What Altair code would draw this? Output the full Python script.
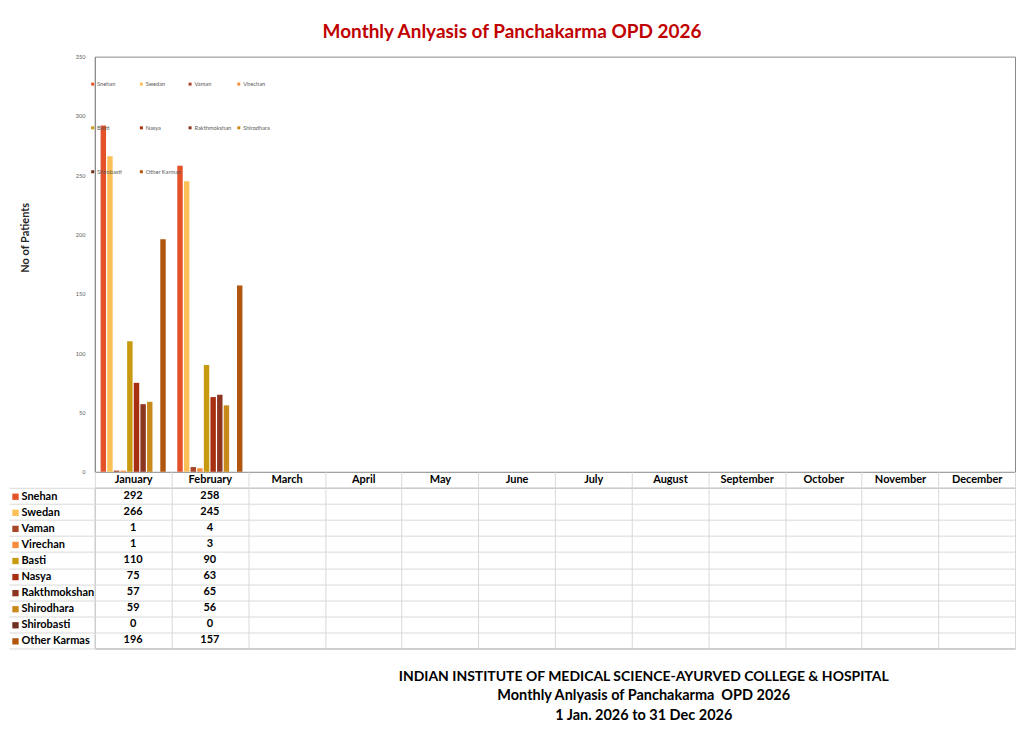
import altair as alt
import pandas as pd

months = ["January", "February", "March", "April", "May", "June", "July",
          "August", "September", "October", "November", "December"]
series = ["Snehan", "Swedan", "Vaman", "Virechan", "Basti", "Nasya",
          "Rakthmokshan", "Shirodhara", "Shirobasti", "Other Karmas"]
colors = ["#E4522A", "#FDBF56", "#A8462A", "#F68D3E", "#C89A10", "#A83010",
          "#8C3520", "#C98A1C", "#6F3020", "#B0560F"]
jan_values = [292, 266, 1, 1, 110, 75, 57, 59, 0, 196]
feb_values = [258, 245, 4, 3, 90, 63, 65, 56, 0, 157]
y_ticks = [0, 50, 100, 150, 200, 250, 300, 350]

title_text = "Monthly Anlyasis of Panchakarma OPD 2026"
footer_lines = ["INDIAN INSTITUTE OF MEDICAL SCIENCE-AYURVED COLLEGE & HOSPITAL",
                "Monthly Anlyasis of Panchakarma\u00a0 OPD 2026",
                "1 Jan. 2026 to 31 Dec 2026"]

rows = []
for m, vals in (("January", jan_values), ("February", feb_values)):
    for s, v in zip(series, vals):
        rows.append({"month": m, "series": s, "value": v})
df = pd.DataFrame(rows)

FONT = "Lato"
PLOT_W = 922
color_scale = alt.Scale(domain=series, range=colors)
x_scale = alt.Scale(domain=months, paddingInner=0, paddingOuter=0)

bars = alt.Chart(df).mark_bar().encode(
    x=alt.X("month:N", scale=x_scale, axis=None),
    xOffset=alt.XOffset("series:N", scale=alt.Scale(domain=series, paddingInner=0.18, paddingOuter=0.87)),
    y=alt.Y("value:Q", scale=alt.Scale(domain=[0, 350]),
            axis=alt.Axis(values=y_ticks, title="No of Patients", grid=False, ticks=False,
                          labelFontSize=5.5, labelColor="#595959", labelPadding=10,
                          domainColor="#898989", titleFontSize=11, titleFontWeight="bold",
                          titleColor="#262626", titlePadding=45, titleY=181,
                          titleFont=FONT, labelFont=FONT)),
    color=alt.Color("series:N", scale=color_scale,
                    legend=alt.Legend(title=None, orient="none", legendX=-5, legendY=24.5,
                                      direction="horizontal",
                                      columns=4, gridAlign="all", columnPadding=3.8, rowPadding=37,
                                      symbolType="square", symbolSize=9, symbolStrokeWidth=0,
                                      labelFontSize=5.7, labelColor="#595959", labelOffset=1.5,
                                      labelFont=FONT, padding=0)),
).properties(width=PLOT_W, height=416)

table_text = alt.Chart(df).mark_text(fontSize=11, fontWeight="bold", color="black", font=FONT).encode(
    x=alt.X("month:N", scale=x_scale,
            axis=alt.Axis(orient="top", title=None, labelFontSize=11, labelFontWeight="bold",
                          labelColor="black", labelFont=FONT, labelAngle=0, domain=False,
                          ticks=True, tickBand="extent", tickSize=16, tickColor="#d9d9d9",
                          labelPadding=-13, grid=True, gridColor="#d9d9d9")),
    y=alt.Y("series:N", scale=alt.Scale(domain=series, paddingInner=0, paddingOuter=0),
            axis=alt.Axis(title=None, labels=False, domain=False, ticks=True, tickBand="extent",
                          tickSize=86, tickColor="#d9d9d9", grid=True, gridColor="#d9d9d9")),
    text=alt.Text("value:Q"),
)

table_keys = alt.Chart(df).mark_square(opacity=0, size=1).encode(
    x=alt.X("month:N", scale=x_scale),
    y=alt.Y("series:N", scale=alt.Scale(domain=series)),
    color=alt.Color("series:N", scale=color_scale,
                    legend=alt.Legend(title=None, orient="none", legendX=-85, legendY=3.5,
                                      direction="vertical", rowPadding=4.1,
                                      symbolType="square", symbolSize=40, symbolOpacity=1,
                                      symbolStrokeWidth=0, labelFontSize=11, labelFontWeight="bold",
                                      labelColor="black", labelOffset=0.5, labelFont=FONT,
                                      padding=0, labelLimit=200)),
)

table = alt.layer(table_text, table_keys).properties(
    width=PLOT_W, height=161,
    title=alt.TitleParams(text=footer_lines[0], subtitle=footer_lines[1:], orient="bottom",
                          anchor="middle", frame="group", dx=89, offset=21,
                          fontSize=14, fontWeight="bold", color="black", font=FONT,
                          subtitleFontSize=14.5, subtitleFontWeight="bold", subtitleColor="black",
                          subtitleFont=FONT, subtitlePadding=5, subtitleLineHeight=20),
)

chart = alt.vconcat(bars, table, spacing=16, bounds="flush").resolve_legend(
    color="independent"
).properties(
    title=alt.TitleParams(text=title_text, fontSize=19, fontWeight="bold", color="#C00000",
                          font=FONT, anchor="middle", offset=12),
    padding={"top": 14, "left": 0, "right": 0, "bottom": 2},
    background="white",
).configure_view(stroke="#898989", strokeWidth=1)

chart.save("out.html", embed_options={"renderer": "svg", "actions": False})
